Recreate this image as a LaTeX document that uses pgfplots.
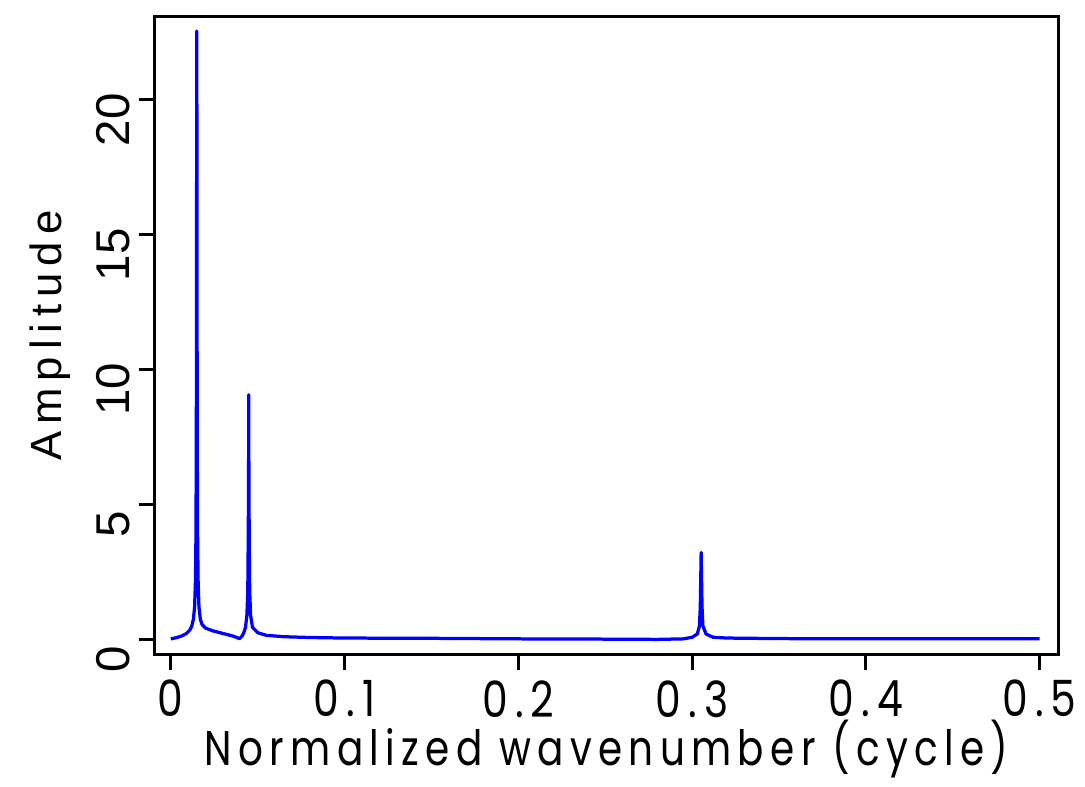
\documentclass[border=0pt]{standalone}
\usepackage{fontspec}
\setmainfont{Liberation Sans}
\newfontfamily\xfont[FakeStretch=0.8,LetterSpace=13]{Poppins}
\newfontfamily\xtfont[FakeStretch=0.82,LetterSpace=14]{Poppins}
\newfontfamily\yfont[LetterSpace=16]{Liberation Sans}
\usepackage{pgfplots}
\pgfplotsset{compat=1.18}
\begin{document}
\begin{tikzpicture}
\begin{axis}[
  name=main,
  scale only axis,
  width=362pt, height=255.2pt,
  xmin=-0.0092, xmax=0.511,
  ymin=-0.55, ymax=23.07,
  axis line style={line width=1.2pt},
  every tick/.style={black, line width=1.2pt},
  tick align=outside,
  xtick pos=bottom, ytick pos=left,
  major tick length=6.4pt,
  xtick={0,0.1,0.2,0.3,0.4,0.5},
  xticklabels={0,0.1,0.2,0.3,0.4,0.5},
  ytick={0,5,10,15,20},
  yticklabels={0,5,10,15,20},
  x tick label style={font=\xtfont\fontsize{20}{20}\selectfont, yshift=-0.5pt},
  y tick label style={font=\fontsize{19}{19}\selectfont, rotate=90, anchor=south, xshift=-8pt},
  xlabel={Normalized wavenumber (cycle)},
  ylabel={Amplitude},
  xlabel style={font=\xfont\fontsize{19.5}{19.5}\selectfont, at={(axis description cs:0.5,-0.1745)}, anchor=base},
  ylabel style={font=\yfont\fontsize{17.5}{17.5}\selectfont, at={(axis description cs:-0.1028,0.5)}, anchor=base},
  clip=true,
]
\addplot[color={rgb,255:red,0;green,0;blue,255}, line width=1.3pt, line join=round] coordinates {
(0,0.02) (0.003,0.06) (0.006,0.12) (0.009,0.22) (0.011,0.35) (0.012,0.48) (0.013,0.75) (0.0137,1.2) (0.0142,2.2) (0.0145,4) (0.0147,8) (0.0148,13) (0.0149,20) (0.01495,22.55) (0.0150,20) (0.0151,13) (0.0152,8) (0.0154,4) (0.0157,2.2) (0.0162,1.2) (0.017,0.75) (0.018,0.55) (0.020,0.42) (0.024,0.32) (0.030,0.22) (0.036,0.12) (0.0395,0.03) (0.041,0.12) (0.042,0.25) (0.043,0.45) (0.0438,0.9) (0.0443,1.8) (0.0446,4) (0.0448,7) (0.04485,9.07) (0.0449,7) (0.0451,4) (0.0454,1.8) (0.0459,0.9) (0.047,0.45) (0.050,0.25) (0.055,0.15) (0.065,0.1) (0.08,0.07) (0.1,0.05) (0.15,0.04) (0.2,0.02) (0.25,0.01) (0.28,0.0) (0.295,0.02) (0.300,0.08) (0.303,0.2) (0.3042,0.5) (0.3047,1.2) (0.3050,2.4) (0.3052,3.22) (0.3054,2.4) (0.3057,1.2) (0.3062,0.5) (0.308,0.2) (0.312,0.08) (0.32,0.05) (0.35,0.03) (0.4,0.02) (0.5,0.02)
};
\end{axis}
\path ([xshift=-62pt,yshift=6.8pt]main.north west) rectangle ([xshift=10pt,yshift=-51.6pt]main.south east);
\end{tikzpicture}
\end{document}
